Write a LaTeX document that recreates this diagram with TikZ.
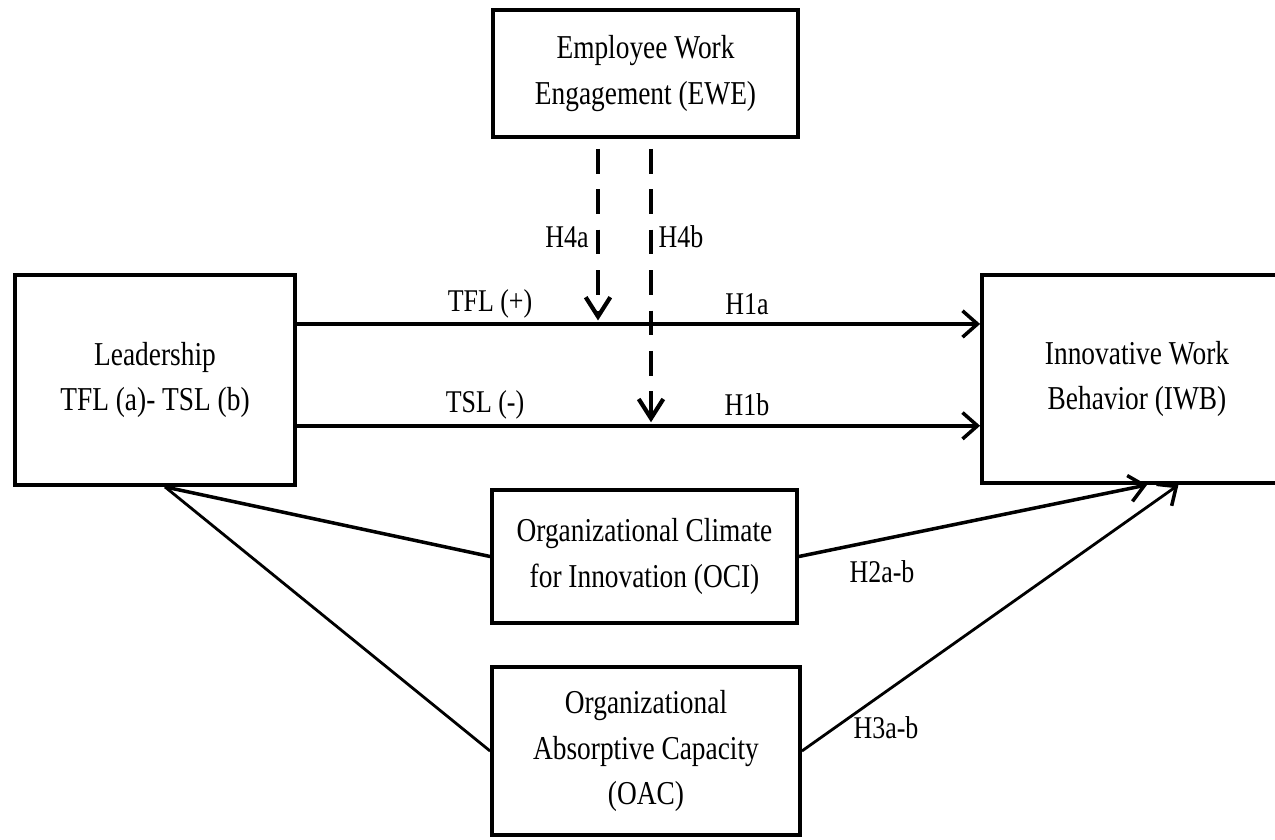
\documentclass[tikz,border=0pt]{standalone}
\usepackage{fontspec}
\setmainfont{Liberation Serif}[FakeStretch=0.82]
\usetikzlibrary{arrows.meta,calc}

\tikzset{
	construct/.style={draw, line width=2.2pt, align=center, inner sep=0pt,
		font=\fontsize{19}{26}\selectfont},
	path label/.style={inner sep=1pt, font=\fontsize{18}{22}\selectfont},
	barb/.style={-{Straight Barb[length=8.5pt,width=15pt,line width=2pt]}},
	link/.style={line width=2pt},
	effect/.style={link, barb},
	moderator/.style={line width=2pt, dash pattern=on 14pt off 9pt, shorten >=2pt,
		-{Straight Barb[length=11pt,width=14pt,line width=2.4pt]}},
}

\begin{document}
\begin{tikzpicture}[x=0.02cm, y=-0.02cm]
	\useasboundingbox (0,0) rectangle (1275,839);
	
	\node[construct, minimum width=6.1cm, minimum height=2.54cm] (ewe) at (645.5,73.5) {Employee Work\\Engagement (EWE)};
	\node[construct, minimum width=5.6cm, minimum height=4.2cm] (lead) at (155,380) {Leadership\\TFL (a)- TSL (b)};
	\node[construct, minimum width=6.2cm, minimum height=4.16cm] (iwb) at (1137,379) {Innovative Work\\Behavior (IWB)};
	\node[construct, minimum width=6.1cm, minimum height=2.66cm] (oci) at (644.5,556.5) {Organizational Climate\\for Innovation (OCI)};
	\node[construct, minimum width=6.16cm, minimum height=3.36cm] (oac) at (646,751) {Organizational\\Absorptive Capacity\\(OAC)};
	
	% direct paths
	\coordinate (tfl) at ($(lead.north east)!0.238!(lead.south east)$);
	\coordinate (tsl) at ($(lead.north east)!0.714!(lead.south east)$);
	\draw[effect] (tfl) -- (tfl -| iwb.west);
	\draw[effect] (tsl) -- (tsl -| iwb.west);
	
	% moderation
	\coordinate (mod a) at ([xshift=-0.95cm,yshift=-0.2cm]ewe.south);
	\coordinate (mod b) at ([xshift=0.11cm,yshift=-0.2cm]ewe.south);
	\draw[moderator] (mod a) -- (mod a |- tfl);
	\draw[moderator] (mod b) -- (mod b |- tsl);
	
	% mediation
	\coordinate (lead foot) at ([xshift=0.2cm]lead.south);
	\draw[link] (lead foot) -- (oci.west);
	\draw[link, line width=1.6pt] (lead foot) -- (oac.west);
	\draw[effect] (oci.east) -- ($(iwb.south west)!0.532!(iwb.south east)$);
	\draw[effect, line width=1.6pt] (oac.east) -- ($(iwb.south west)!0.632!(iwb.south east)$);
	
	% labels
	\node[path label] (h4a) at (567,237) {H4a};
	\node[path label] (h4b) at (681,237) {H4b};
	\node[path label] (tfl lab) at (490,304) {TFL (+)};
	\node[path label] (h1a) at (747,304) {H1a};
	\node[path label] (tsl lab) at (485,405) {TSL (-)};
	\node[path label] (h1b) at (747,405) {H1b};
	\node[path label] (h2) at (882,572) {H2a-b};
	\node[path label] (h3) at (886,728) {H3a-b};
\end{tikzpicture}
\end{document}
